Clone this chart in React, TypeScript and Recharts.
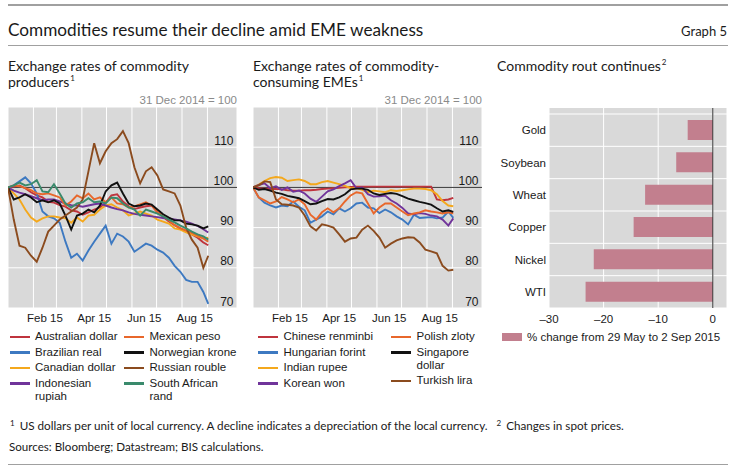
import React from "react";
import {
  LineChart,
  Line,
  XAxis,
  YAxis,
  CartesianGrid,
  ReferenceLine,
  BarChart,
  Bar,
} from "recharts";

// days since 31 Dec 2014 (weekly readings, last one 2 Sep 2015)
const days = [
  0, 7, 14, 21, 28, 35, 42, 49, 56, 63, 70, 77, 84, 91, 98, 105, 112, 119, 126,
  133, 140, 147, 154, 161, 168, 175, 182, 189, 196, 203, 210, 217, 224, 231, 238, 244,
];
const monthStarts = [31, 59, 90, 120, 151, 181, 212, 243];
const monthLabelDays = [45, 105, 166, 227.5];
const monthLabels = ["Feb 15", "Apr 15", "Jun 15", "Aug 15"];
const levelTicks = [70, 80, 90, 100, 110, 120];

// commodity producers
const australianDollar = [100, 100.2, 100.5, 99.8, 98.8, 98, 97.5, 96.4, 96.2, 95.6, 95.2, 94.3, 94, 93.2, 93.8, 94.5, 95, 96.2, 98, 98.3, 96.5, 95.3, 94.6, 95, 95.3, 95.5, 93.8, 92.7, 91.5, 90.6, 89.8, 89, 88.3, 87.5, 86.3, 85.6];
const brazilianReal = [100, 100.5, 101.5, 102.5, 101, 98.5, 94, 92.8, 92.3, 91.2, 86.5, 82.5, 83.5, 81.8, 84.3, 86.5, 88.5, 90.5, 86, 88.5, 87.8, 86.5, 84, 85, 86, 85.5, 84.5, 83.8, 82.5, 80.5, 79, 77, 76.5, 76.5, 74, 71];
const canadianDollar = [100, 98.5, 97, 94.5, 92.5, 91.5, 92.3, 92.8, 92.8, 92.5, 92.3, 91.2, 92.5, 91.5, 93, 93.2, 94.5, 95.5, 95.8, 95, 94.3, 93, 93.5, 94, 93.5, 93, 92, 91.5, 91, 89.8, 89.5, 88.8, 88.3, 87.8, 87.3, 87.5];
const indonesianRupiah = [100, 99.2, 98.7, 98.3, 97.8, 97.3, 96.8, 97, 97, 96.5, 96, 95.6, 95.5, 95.2, 95.5, 95.8, 96, 95.5, 95, 94.6, 94.3, 93.8, 93.4, 93.2, 93, 92.8, 92.6, 92.4, 92.2, 92, 91.8, 91.5, 91, 90.4, 89.6, 88.8];
const mexicanPeso = [100, 100.5, 100.3, 99.8, 99.3, 98.5, 98.3, 98.5, 98, 97.5, 95.5, 96.5, 98, 97.3, 98.5, 97, 97.5, 96.3, 97.5, 96, 95.8, 95, 95.3, 95.8, 96.3, 95.5, 93.8, 93, 91.8, 90.6, 89.8, 89.3, 88.7, 88, 87.3, 86.5];
const norwegianKrone = [100, 97, 97.5, 98.3, 97.5, 96.3, 96.8, 96.3, 96.8, 96, 93, 89.5, 93, 93.5, 94.5, 93.8, 95.5, 99, 100.5, 101.2, 98.5, 96, 95.3, 95.5, 96, 95.7, 94.5, 93.3, 92.5, 91.8, 91.8, 91, 90.8, 90.5, 89.8, 90.3];
const russianRouble = [100, 92, 85.5, 85, 83, 81.5, 85, 89, 90.5, 92, 93, 94, 95, 97, 104, 111, 106, 109, 111, 112, 114, 111, 105, 101, 104, 105, 103, 99.5, 99, 98.5, 95.5, 90, 87, 85, 80, 83];
const southAfricanRand = [100, 100.5, 101.2, 100.5, 100.8, 101.8, 99, 98.8, 100.8, 98.5, 96, 95, 96, 96.3, 97.3, 96.3, 96.5, 96, 97.5, 97.3, 96, 95, 94.5, 93, 94.5, 94, 93.5, 92.8, 92, 91.3, 90.5, 89.8, 89, 88.3, 87.8, 87];

// commodity-consuming EMEs
const chineseRenminbi = [100, 99.8, 99.7, 99.6, 99.6, 99.5, 99.3, 99.2, 99.2, 99.3, 99.3, 99.4, 99.6, 99.7, 99.8, 99.9, 100, 100.1, 100.2, 100.2, 100.2, 100.2, 100.2, 100.2, 100.2, 100.2, 100.2, 100.2, 100.2, 100.2, 100.2, 100.2, 97, 96.8, 97, 97.4];
const hungarianForint = [100, 97.5, 96.2, 95.5, 95, 95.5, 95.3, 96.5, 95.2, 94.3, 91.2, 92, 92.8, 94, 93.3, 94.8, 94, 94.8, 96, 96.2, 95, 94.8, 93.6, 94.5, 93.8, 92.8, 92, 90.8, 93.2, 92.4, 92.5, 92.6, 92.3, 92.5, 94, 92.4];
const indianRupee = [100, 100.7, 101.6, 102.3, 102.6, 102.4, 101.6, 101.8, 102, 101.6, 100.8, 100.8, 101.3, 101.6, 101.2, 100.8, 100.4, 99.8, 99.8, 99.4, 98.8, 99.2, 99, 98.8, 99.3, 99.1, 99.3, 99.5, 99.7, 99.7, 99.6, 99.3, 98.3, 96.6, 95.5, 95.3];
const koreanWon = [100, 100.6, 101, 99.8, 100.3, 99.4, 100, 98.9, 99.2, 98.5, 97.2, 96.4, 97.7, 99, 99.5, 100.3, 101, 101.8, 99.8, 100, 98.3, 97.7, 97.8, 98, 96.8, 96, 94.9, 93.5, 93.3, 93.6, 93.4, 93, 92.8, 92, 90.5, 92.3];
const polishZloty = [100, 97.5, 96.8, 96, 96.5, 97.6, 97, 96.3, 97, 95.8, 93.2, 92, 93.8, 94.8, 93.8, 94.8, 96.5, 98, 98.8, 98.5, 96, 93.5, 95, 96, 96, 95, 94, 93.1, 93.5, 93.8, 94.3, 94, 93.8, 93.5, 93.8, 93.5];
const singaporeDollar = [100, 99.4, 99.6, 99.2, 98.7, 98.4, 97.9, 97.6, 97.3, 96.6, 95.8, 96, 96.6, 97.1, 97, 97.5, 98.3, 99.5, 99.7, 99.7, 99.4, 98.5, 98.1, 98.4, 98.6, 98.4, 97.8, 97.2, 96.8, 96.4, 96.1, 95.7, 94.8, 94, 94.3, 93.9];
const turkishLira = [100, 100.5, 101.5, 101.3, 97, 95.8, 95.7, 95.5, 95, 93, 90.3, 89.3, 90.8, 90.5, 90, 88.3, 86.5, 87.3, 87.5, 89.5, 90.5, 89.2, 87.5, 85, 86, 86.8, 87.3, 87.6, 87.5, 86.3, 84.5, 84.1, 83.6, 80.5, 79.3, 79.5];

// commodity rout
const commodities = ["Gold", "Soybean", "Wheat", "Copper", "Nickel", "WTI"];
const priceChanges = [-4.6, -6.7, -12.4, -14.5, -21.8, -23.3];
const changeTicks = [-30, -20, -10, 0];

const RED = "#bf343d";
const BLUE = "#3d79c1";
const YELLOW = "#f4a81c";
const PURPLE = "#70349a";
const ORANGE = "#e8672b";
const BLACK = "#111111";
const BROWN = "#8b4b1e";
const GREEN = "#3a8a6c";
const PINK = "#c27f8e";
const GRAY_BG = "#d9d9d9";
const INK = "#1a1a1a";
const CHART_FONT = '"Liberation Sans", Arial, sans-serif';
const TEXT_FONT = 'Lato, "Open Sans", sans-serif';

type Series = { key: string; name: string; values: number[]; color: string };

const producers: Series[] = [
  { key: "aud", name: "Australian dollar", values: australianDollar, color: RED },
  { key: "brl", name: "Brazilian real", values: brazilianReal, color: BLUE },
  { key: "cad", name: "Canadian dollar", values: canadianDollar, color: YELLOW },
  { key: "idr", name: "Indonesian\nrupiah", values: indonesianRupiah, color: PURPLE },
  { key: "mxn", name: "Mexican peso", values: mexicanPeso, color: ORANGE },
  { key: "nok", name: "Norwegian krone", values: norwegianKrone, color: BLACK },
  { key: "rub", name: "Russian rouble", values: russianRouble, color: BROWN },
  { key: "zar", name: "South African\nrand", values: southAfricanRand, color: GREEN },
];

const consumers: Series[] = [
  { key: "cny", name: "Chinese renminbi", values: chineseRenminbi, color: RED },
  { key: "huf", name: "Hungarian forint", values: hungarianForint, color: BLUE },
  { key: "inr", name: "Indian rupee", values: indianRupee, color: YELLOW },
  { key: "krw", name: "Korean won", values: koreanWon, color: PURPLE },
  { key: "pln", name: "Polish zloty", values: polishZloty, color: ORANGE },
  { key: "sgd", name: "Singapore\ndollar", values: singaporeDollar, color: BLACK },
  { key: "try", name: "Turkish lira", values: turkishLira, color: BROWN },
];

function buildRows(series: Series[]) {
  return days.map((day, i) => {
    const row: Record<string, number> = { day };
    series.forEach((s) => (row[s.key] = s.values[i]));
    return row;
  });
}

const barRows = commodities.map((name, i) => ({ name, change: priceChanges[i] }));

function MonthTick(props: any) {
  const { x, y } = props;
  return <line x1={x} x2={x} y1={y - 7} y2={y} stroke="#555" strokeWidth={1} />;
}

function LevelTick(props: any) {
  const { x, y, payload } = props;
  if (payload.value >= 120) return <g />;
  return (
    <text
      x={x - 3.5}
      y={y - 2.5}
      textAnchor="end"
      fontSize={12}
      fontFamily={CHART_FONT}
      fill={INK}
    >
      {payload.value}
    </text>
  );
}

const PLOT_W = 229;
const PLOT_H = 201;
const BAR_PAD_TOP = 6;

function RatesPanel({ left, series }: { left: number; series: Series[] }) {
  const rows = buildRows(series);
  return (
    <div style={{ position: "absolute", left, top: 107 }}>
      <LineChart
        width={PLOT_W}
        height={PLOT_H + 22}
        data={rows}
        margin={{ top: 0, right: 0, bottom: 0, left: 0 }}
      >
        <CartesianGrid fill={GRAY_BG} stroke="#ffffff" strokeWidth={1} />
        <XAxis
          dataKey="day"
          type="number"
          domain={[0, 279]}
          ticks={monthStarts}
          interval={0}
          height={0}
          axisLine={false}
          tickLine={false}
          tickSize={0}
          tickMargin={0}
          tick={<MonthTick />}
        />
        <XAxis
          xAxisId="labels"
          dataKey="day"
          type="number"
          domain={[0, 279]}
          ticks={monthLabelDays}
          interval={0}
          height={22}
          axisLine={false}
          tickLine={false}
          tickSize={0}
          tickMargin={6}
          tickFormatter={(v: number) => monthLabels[monthLabelDays.indexOf(v)] ?? ""}
          tick={{ fontSize: 11.5, fill: INK, fontFamily: CHART_FONT }}
        />
        <YAxis
          orientation="right"
          mirror
          type="number"
          domain={[70, 120]}
          ticks={levelTicks}
          interval={0}
          width={30}
          axisLine={false}
          tickLine={false}
          tickSize={0}
          tickMargin={0}
          tick={<LevelTick />}
        />
        <ReferenceLine y={100} stroke="#333333" strokeWidth={1} />
        {series.map((s) => (
          <Line
            key={s.key}
            dataKey={s.key}
            name={s.name}
            type="linear"
            stroke={s.color}
            strokeWidth={1.9}
            dot={false}
            isAnimationActive={false}
          />
        ))}
      </LineChart>
    </div>
  );
}

function rowLines({ offset }: any) {
  const top = offset.top + BAR_PAD_TOP;
  const step = (offset.height - BAR_PAD_TOP) / commodities.length;
  return commodities.map((_, i) => top + i * step).concat(top + commodities.length * step);
}

function CommodityPanel() {
  return (
    <div style={{ position: "absolute", left: 490, top: 108 }}>
      <BarChart
        layout="vertical"
        width={237}
        height={200 + 22}
        data={barRows}
        margin={{ top: 0, right: 0, bottom: 0, left: 0 }}
      >
        <CartesianGrid
          fill={GRAY_BG}
          stroke="#ffffff"
          strokeWidth={1}
          horizontalCoordinatesGenerator={rowLines}
        />
        <XAxis
          type="number"
          domain={[-30, 2.6]}
          ticks={changeTicks}
          interval={0}
          height={22}
          axisLine={false}
          tickLine={false}
          tickSize={0}
          tickMargin={7}
          tickFormatter={(v: number) => (v < 0 ? `\u2013${Math.abs(v)}` : `${v}`)}
          tick={{ fontSize: 11.5, fill: INK, fontFamily: CHART_FONT }}
        />
        <YAxis
          type="category"
          dataKey="name"
          width={59}
          axisLine={false}
          tickLine={false}
          tickSize={0}
          tickMargin={3}
          padding={{ top: BAR_PAD_TOP, bottom: 0 }}
          tick={{ fontSize: 11.5, fill: INK, fontFamily: CHART_FONT }}
        />
        <Bar dataKey="change" fill={PINK} barSize={20} isAnimationActive={false} />
        <ReferenceLine x={0} stroke="#333333" strokeWidth={1} />
      </BarChart>
    </div>
  );
}

function LegendColumn({ left, items }: { left: number; items: Series[] }) {
  return (
    <div style={{ position: "absolute", left, top: 330, display: "flex", flexDirection: "column", gap: 2.5 }}>
      {items.map((s) => (
        <div key={s.key} style={{ display: "flex", alignItems: "flex-start" }}>
          <div style={{ width: 20, height: 2.5, background: s.color, marginTop: 5.5, marginRight: 5.5 }} />
          <div
            style={{
              fontFamily: CHART_FONT,
              fontSize: 11.5,
              lineHeight: "13px",
              color: INK,
              whiteSpace: "pre-line",
            }}
          >
            {s.name}
          </div>
        </div>
      ))}
    </div>
  );
}

const textAt = (left: number, cy: number, size: number, lh: number): React.CSSProperties => ({
  position: "absolute",
  left,
  top: cy - lh / 2,
  fontSize: size,
  lineHeight: `${lh}px`,
  fontFamily: TEXT_FONT,
  color: INK,
  whiteSpace: "nowrap",
});

const supStyle: React.CSSProperties = { fontSize: 8, verticalAlign: "6px", lineHeight: 0, marginLeft: 1 };

export default function App() {
  return (
    <div style={{ position: "absolute", left: 0, top: 0, width: 736, height: 473, background: "#fff" }}>
      <div style={{ position: "absolute", left: 8, top: 4, width: 720, height: 1.5, background: "#a0a0a0" }} />
      <div style={textAt(8, 30, 17.2, 20)}>Commodities resume their decline amid EME weakness</div>
      <div style={{ ...textAt(0, 31, 13, 16), left: undefined, right: 9 }}>Graph 5</div>
      <div style={{ position: "absolute", left: 8, top: 44.5, width: 720, height: 1.5, background: "#a0a0a0" }} />

      <div style={textAt(8, 66, 14, 16)}>Exchange rates of commodity</div>
      <div style={textAt(8, 82, 14, 16)}>
        producers<span style={supStyle}>1</span>
      </div>
      <div style={textAt(253, 66, 14, 16)}>Exchange rates of commodity-</div>
      <div style={textAt(253, 82, 14, 16)}>
        consuming EMEs<span style={supStyle}>1</span>
      </div>
      <div style={textAt(497, 66, 14, 16)}>
        Commodity rout continues<span style={supStyle}>2</span>
      </div>

      <div style={{ ...textAt(0, 100, 11.5, 14), left: undefined, right: 736 - 237, fontFamily: CHART_FONT, color: "#8a8a8a" }}>
        31 Dec 2014 = 100
      </div>
      <div style={{ ...textAt(0, 100, 11.5, 14), left: undefined, right: 736 - 482, fontFamily: CHART_FONT, color: "#8a8a8a" }}>
        31 Dec 2014 = 100
      </div>

      <RatesPanel left={8} series={producers} />
      <RatesPanel left={253} series={consumers} />
      <CommodityPanel />

      <LegendColumn left={9.5} items={producers.slice(0, 4)} />
      <LegendColumn left={124} items={producers.slice(4)} />
      <LegendColumn left={258} items={consumers.slice(0, 4)} />
      <LegendColumn left={391} items={consumers.slice(4)} />

      <div style={{ position: "absolute", left: 502, top: 332.5, width: 20, height: 8.5, background: PINK }} />
      <div style={{ ...textAt(527, 337, 11.5, 14), fontFamily: CHART_FONT }}>% change from 29 May to 2 Sep 2015</div>

      <div style={textAt(10, 423, 11.7, 14)}>
        <span style={{ fontSize: 8, verticalAlign: "4px", marginRight: 5 }}>1</span>
        US dollars per unit of local currency. A decline indicates a depreciation of the local currency.
        <span style={{ fontSize: 8, verticalAlign: "4px", marginLeft: 9, marginRight: 5 }}>2</span>
        Changes in spot prices.
      </div>
      <div style={textAt(9, 447, 11.6, 14)}>Sources: Bloomberg; Datastream; BIS calculations.</div>
      <div style={{ position: "absolute", left: 8, top: 463.5, width: 720, height: 1.5, background: "#a0a0a0" }} />
    </div>
  );
}
